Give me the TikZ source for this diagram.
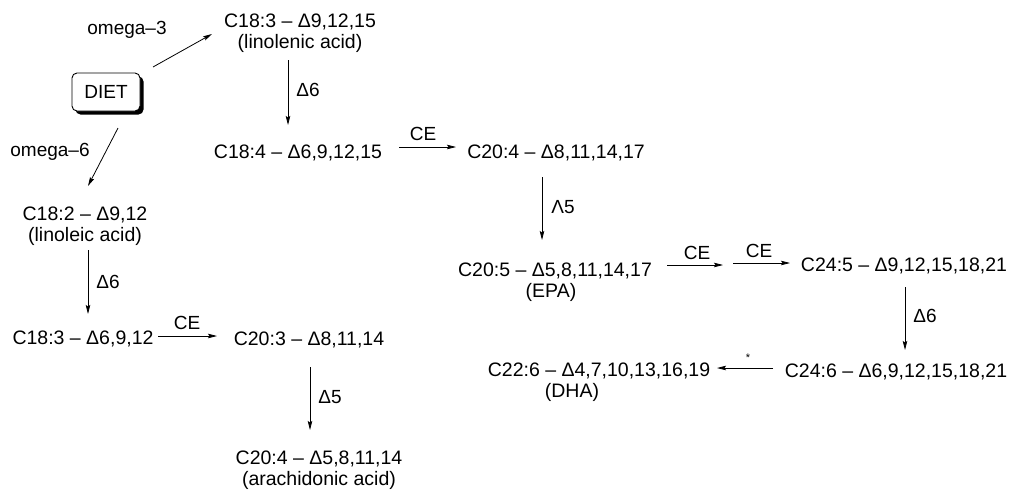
\documentclass[tikz,border=0pt]{standalone}
\usepackage{fontspec}
\setmainfont{Liberation Sans}
\usetikzlibrary{arrows.meta,shadows}
\begin{document}
\begin{tikzpicture}[x=1pt,y=-1pt,
  every node/.style={inner sep=0pt,font=\fontsize{19}{20.5}\selectfont},
  acid/.style={font=\fontsize{19.5}{20.5}\selectfont},
  acid2/.style={acid,align=center},
  lbl/.style={},
  arr/.style={-{Stealth[length=9pt,width=4.5pt,inset=1.5pt]},line width=0.8pt},
  dietbox/.style={draw,line width=0.9pt,rounded corners=5pt,fill=white,
    minimum width=68pt,minimum height=38pt,
    drop shadow={shadow xshift=3.5pt,shadow yshift=-3.5pt,fill=black,opacity=1}}]
\useasboundingbox (0,0) rectangle (1010,490);

% source and branch labels
\node[dietbox] (diet) at (106,92) {DIET};
\node[lbl] (om3) at (127,30) {omega–3};
\node[lbl] (om6) at (50,152) {omega–6};

% omega-3 pathway
\node[acid2] (l18a) at (300,33) {C18:3 – Δ9,12,15\\(linolenic acid)};
\node[acid] (n184) at (298,152.5) {C18:4 – Δ6,9,12,15};
\node[acid] (n204a) at (556,152.5) {C20:4 – Δ8,11,14,17};
\node[acid2] (n205) at (555,282) {C20:5 – Δ5,8,11,14,17\\(EPA)\hspace*{8pt}};
\node[acid] (n245) at (904,265.5) {C24:5 – Δ9,12,15,18,21};
\node[acid] (n246) at (896,371.5) {C24:6 – Δ6,9,12,15,18,21};
\node[acid2] (n226) at (599,382) {C22:6 – Δ4,7,10,13,16,19\\(DHA)\hspace*{54pt}};

% omega-6 pathway
\node[acid2] (n182) at (85,226) {C18:2 – Δ9,12\\(linoleic acid)};
\node[acid] (n183b) at (83,338.5) {C18:3 – Δ6,9,12};
\node[acid] (n203) at (309,339.5) {C20:3 – Δ8,11,14};
\node[acid2] (n204b) at (319,470) {C20:4 – Δ5,8,11,14\\(arachidonic acid)};

% chain elongation intermediate
\coordinate (mid1) at (723,265);
\coordinate (mid2) at (733,263);

% connectors
\draw[arr] ([shift={(47,-25)}]diet.center) -- ([shift={(-88,1)}]l18a.center);
\draw[arr] ([shift={(12,36)}]diet.center) -- ([shift={(3,-40)}]n182.center);

\draw[arr] ([shift={(-12,27)}]l18a.center) -- ([shift={(-10,-27.5)}]n184.center);
\node[lbl] (d6a) at (308,90) {Δ6};
\draw[arr] ([shift={(101,-5.5)}]n184.center) -- ([shift={(-100,-5.5)}]n204a.center);
\node[lbl] (ce1) at (423,134) {CE};
\draw[arr] ([shift={(-14,24.5)}]n204a.center) -- ([shift={(-13,-42)}]n205.center);
\node[lbl] (l5) at (563,207) {Λ5};
\draw[arr] ([shift={(112,-17)}]n205.center) -- (mid1);
\node[lbl] (ce2) at (697,253) {CE};
\draw[arr] (mid2) -- ([shift={(-114,-2.5)}]n245.center);
\node[lbl] (ce3) at (759,251) {CE};
\draw[arr] ([shift={(1,21.5)}]n245.center) -- ([shift={(9,-21.5)}]n246.center);
\node[lbl] (d6b) at (925,316) {Δ6};
\draw[arr] ([shift={(-123,-3.5)}]n246.center) -- ([shift={(118,-14)}]n226.center);
\node[font=\fontsize{11}{12}\selectfont] (star) at (748,358) {*};

\draw[arr] ([shift={(3,24)}]n182.center) -- ([shift={(5,-24.5)}]n183b.center);
\node[lbl] (d6c) at (108,282) {Δ6};
\draw[arr] ([shift={(75,-2.5)}]n183b.center) -- ([shift={(-92,-3.5)}]n203.center);
\node[lbl] (ce4) at (187,323) {CE};
\draw[arr] ([shift={(1,27.5)}]n203.center) -- ([shift={(-9,-40)}]n204b.center);
\node[lbl] (d5) at (330,397) {Δ5};
\end{tikzpicture}
\end{document}
